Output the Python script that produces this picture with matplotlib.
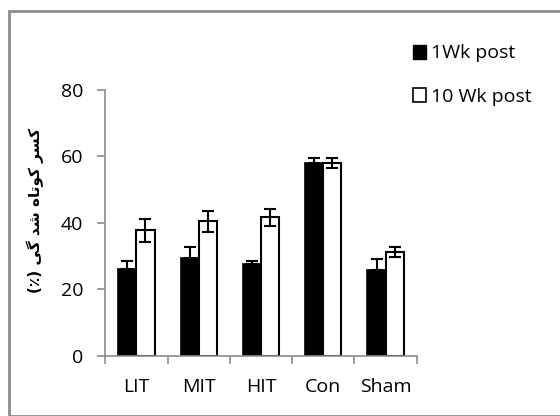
import matplotlib.pyplot as plt
from matplotlib.patches import Patch, Rectangle
import numpy as np

plt.rcParams['font.family'] = ['Open Sans', 'DejaVu Sans']

groups = ['LIT', 'MIT', 'HIT', 'Con', 'Sham']
wk1 = [26.0, 29.3, 27.5, 58.0, 25.8]
wk1_err = [2.5, 3.5, 1.1, 1.6, 3.2]
wk10 = [37.8, 40.5, 41.7, 58.0, 31.2]
wk10_err = [3.5, 3.1, 2.5, 1.5, 1.4]
yticks = [0, 20, 40, 60, 80]

# persian label, written in visual order with presentation forms
ylabel = ('(\u066A) ' + '\uFBFD\uFB94' + ' ' + '\uFEAA\uFEB7' + ' '
          + '\uFEE9\uFE8E\uFE97\uFEEE\uFB90' + ' ' + '\uFEAE\uFEB4\uFB90')

W, H = 560, 416
fig = plt.figure(figsize=(W / 100, H / 100), dpi=100)
ax = fig.add_axes([105.3 / W, 1 - 356 / H, (416.7 - 105.3) / W, (356 - 89.7) / H])

# outer frame
fig.patches.append(Rectangle((9 / W, 0), 1, 1 - 11 / H, transform=fig.transFigure,
                             fill=False, edgecolor='#8c8c8c', linewidth=2, clip_on=False))

x = np.arange(len(groups))
bw = 0.29
gray = '#8c8c8c'

ax.bar(x - bw / 2, wk1, bw, color='black', edgecolor='black', linewidth=1.2,
       yerr=[np.zeros(len(wk1)), wk1_err], capsize=4.5,
       error_kw=dict(ecolor='black', elinewidth=1.5, capthick=1.5), zorder=2)
ax.bar(x + bw / 2, wk10, bw, color='white', edgecolor='black', linewidth=1.5,
       yerr=wk10_err, capsize=4.5,
       error_kw=dict(ecolor='black', elinewidth=1.5, capthick=1.5), zorder=2)

ax.set_xlim(-0.5, len(groups) - 0.5)
ax.set_ylim(0, 80)
ax.set_yticks(yticks)
ax.set_xticks(np.arange(len(groups) + 1) - 0.5)
ax.set_xticklabels([])
ax.set_xticks(x, minor=True)
ax.set_xticklabels(groups, minor=True, fontsize=14)
ax.tick_params(axis='x', which='minor', length=0, pad=16)
ax.tick_params(axis='x', which='major', length=6, color=gray, width=1.2)
ax.tick_params(axis='y', length=6, color=gray, width=1.2, labelsize=14, pad=10)

for s in ['top', 'right']:
    ax.spines[s].set_visible(False)
for s in ['left', 'bottom']:
    ax.spines[s].set_color(gray)
    ax.spines[s].set_linewidth(1.2)

fig.text(35 / W, 1 - 210 / H, ylabel, rotation=90, ha='center', va='center',
         fontsize=11, fontweight='bold', family='DejaVu Sans')

handles = [Patch(facecolor='black', edgecolor='black'),
           Patch(facecolor='white', edgecolor='black', linewidth=1.2)]
fig.legend(handles, ['1Wk post', '10 Wk post'], loc='upper left',
           bbox_to_anchor=(395 / W, 1 - 27 / H), frameon=False, fontsize=14,
           handlelength=0.7, handleheight=0.7, handletextpad=0.25, labelspacing=1.3)

fig.savefig('out.png', dpi=100)
